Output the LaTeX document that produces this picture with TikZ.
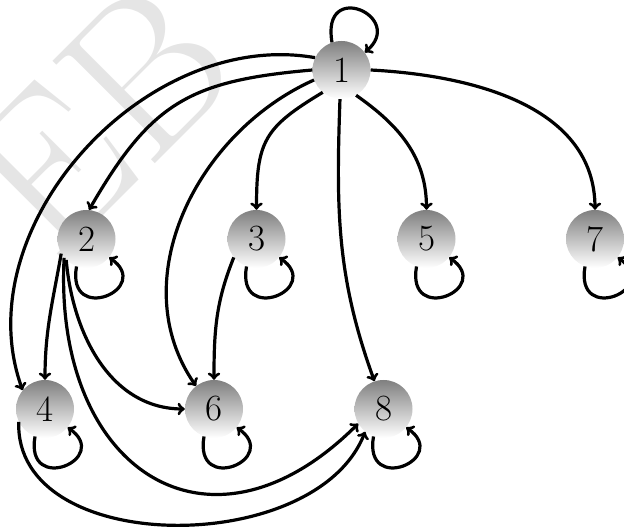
\documentclass[tikz,border=0pt]{standalone}
\begin{document}
\begin{tikzpicture}[x=1pt,y=1pt,
  vtx/.style={circle, minimum size=58pt, inner sep=0pt, top color=gray, bottom color=white, font=\fontsize{37}{40}\selectfont},
  arr/.style={->, line width=3.2pt}]
\useasboundingbox (0,0) rectangle (624,528);
\node[rotate=45, text=gray!20, inner sep=0pt, font=\fontsize{212}{212}\selectfont] (wm) at (98,410) {EB};
\node[vtx] (n1) at (341.5,458) {1};
\node[vtx] (n2) at (86.5,289) {2};
\node[vtx] (n3) at (256.5,289) {3};
\node[vtx] (n5) at (426.5,289) {5};
\node[vtx] (n7) at (595,289) {7};
\node[vtx] (n4) at (45,119) {4};
\node[vtx] (n6) at (214,119) {6};
\node[vtx] (n8) at (383.5,119) {8};
% edges from 1
\draw[arr] (n1.109) .. controls +(100:65pt) and +(40:55pt) .. (n1.37);
\draw[arr] (n1.155) to[out=170,in=110] (n4.140);
\draw[arr] (n1.180) to[out=185,in=60,looseness=1.2] (n2.85);
\draw[arr] (n1.200) to[out=204,in=125] (n6.128);
\draw[arr] (n1.230) to[out=211,in=90,looseness=1.3] (n3.90);
\draw[arr] (n1.-93) to[out=-92,in=110] (n8.108);
\draw[arr] (n1.-60) to[out=-35,in=90] (n5.90);
\draw[arr] (n1.0) to[out=-3,in=90] (n7.90);
% edges from 2
\draw[arr] (n2.-150) to[out=-100,in=90] (n4.90);
\draw[arr] (n2.-140) to[out=-93,in=225,looseness=1.6] (n8.-150);
\draw[arr] (n2.-134) to[out=-85,in=180] (n6.180);
% edges from 3
\draw[arr] (n3.-141) to[out=-112,in=90] (n6.90);
% edge from 4
\draw[arr] (n4.-154) to[out=-92,in=-111] (n8.-129);
% self loops
\foreach \n in {n2,n3,n4,n5,n6,n7,n8}{
  \draw[arr] (\n.-110) .. controls +(-100:60pt) and +(-35:55pt) .. (\n.-39);
}
\end{tikzpicture}
\end{document}
